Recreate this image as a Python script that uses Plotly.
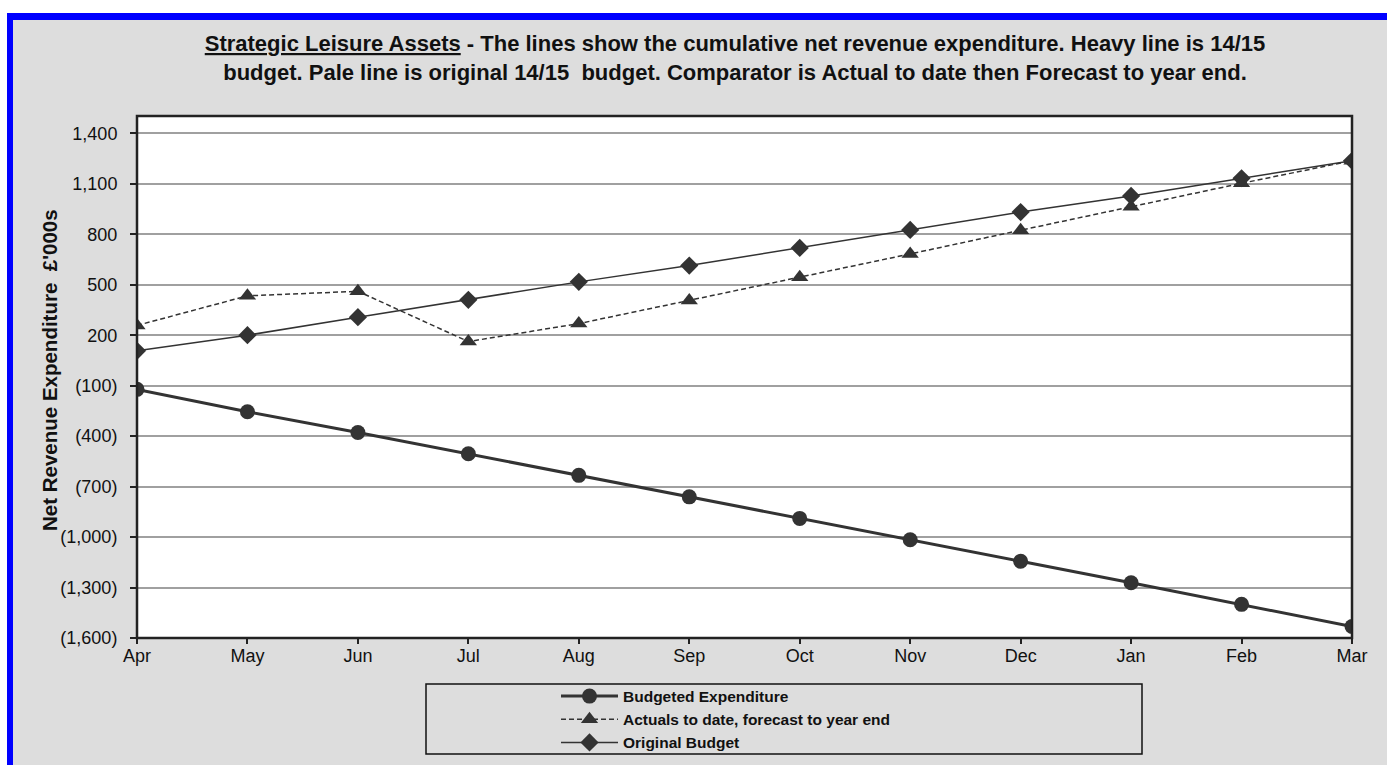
import plotly.graph_objects as go

months = ["Apr", "May", "Jun", "Jul", "Aug", "Sep", "Oct", "Nov", "Dec", "Jan", "Feb", "Mar"]
budgeted = [-122, -255, -378, -505, -633, -761, -889, -1016, -1144, -1272, -1400, -1532]
actuals = [258, 434, 461, 162, 269, 406, 545, 683, 824, 964, 1103, 1237]
original = [107, 200, 307, 410, 517, 614, 719, 826, 932, 1028, 1133, 1237]
ytick_vals = [-1600, -1300, -1000, -700, -400, -100, 200, 500, 800, 1100, 1400]
ytick_text = ["(1,600)", "(1,300)", "(1,000)", "(700)", "(400)", "(100)", "200", "500", "800", "1,100", "1,400"]

W, H = 1387, 765
L, R, T, B = 137, 1352, 116, 638

def px(x):
    return (x - L) / (R - L)

def py(y):
    return (B - y) / (B - T)

dark = "#333333"
fig = go.Figure()
fig.add_trace(go.Scatter(x=months, y=budgeted, name="<b>Budgeted Expenditure</b>", mode="lines+markers",
                         line=dict(color=dark, width=3), marker=dict(symbol="circle", size=15, color=dark)))
fig.add_trace(go.Scatter(x=months, y=actuals, name="<b>Actuals to date, forecast to year end</b>",
                         mode="lines+markers", line=dict(color=dark, width=1.5, dash="5px,3px"),
                         marker=dict(symbol="triangle-up", size=15, color=dark)))
fig.add_trace(go.Scatter(x=months, y=original, name="<b>Original Budget</b>", mode="lines+markers",
                         line=dict(color=dark, width=1.5), marker=dict(symbol="diamond", size=14, color=dark)))

shapes = [
    dict(type="rect", xref="paper", yref="paper", x0=px(0), x1=px(W), y0=py(0), y1=py(13),
         fillcolor="white", line_width=0, layer="below"),
    dict(type="rect", xref="paper", yref="paper", x0=px(0), x1=px(7), y0=py(0), y1=py(H),
         fillcolor="white", line_width=0, layer="below"),
    dict(type="rect", xref="paper", yref="paper", x0=px(7), x1=px(W), y0=py(13), y1=py(20),
         fillcolor="#0000ff", line_width=0, layer="below"),
    dict(type="rect", xref="paper", yref="paper", x0=px(7), x1=px(13), y0=py(13), y1=py(H),
         fillcolor="#0000ff", line_width=0, layer="below"),
    dict(type="rect", xref="paper", yref="paper", x0=px(426), x1=px(1142), y0=py(684), y1=py(754),
         fillcolor="rgba(0,0,0,0)", line=dict(color="#111111", width=1.5), layer="below"),
    dict(type="rect", xref="paper", yref="paper", x0=0, x1=1, y0=0, y1=1,
         fillcolor="rgba(0,0,0,0)", line=dict(color="#222222", width=2.5), layer="above"),
]

title_text = ("<b><u>Strategic Leisure Assets</u> - The lines show the cumulative net revenue expenditure. "
              "Heavy line is 14/15<br>budget. Pale line is original 14/15  budget. "
              "Comparator is Actual to date then Forecast to year end.</b>")

fig.update_layout(
    width=W, height=H, autosize=False,
    margin=dict(l=L, r=W - R, t=T, b=H - B, pad=0, autoexpand=False),
    paper_bgcolor="#dddddd", plot_bgcolor="white",
    font=dict(family="Arial, Liberation Sans, sans-serif", color="#111111", size=18),
    title=dict(text=title_text, xref="container", yref="container", x=735 / W, xanchor="center",
               y=1 - 51 / H, yanchor="middle", font=dict(size=22, color="#111111")),
    showlegend=True,
    legend=dict(x=px(556), y=py(679.5), xanchor="left", yanchor="top", bgcolor="rgba(0,0,0,0)",
                borderwidth=0, font=dict(size=15.5, color="#111111"), tracegroupgap=0,
                itemwidth=57),
    shapes=shapes,
    annotations=[dict(text="<b>Net Revenue Expenditure  £'000s</b>", xref="paper", yref="paper",
                      x=px(49), y=py(370), xanchor="center", yanchor="middle", textangle=-90,
                      showarrow=False, font=dict(size=20.5, color="#111111"))],
    xaxis=dict(type="category", categoryorder="array", categoryarray=months, range=[0, 11],
               showgrid=False, ticks="outside", ticklen=5, tickcolor="#222222", tickwidth=1.5,
               showline=False, zeroline=False, tickfont=dict(size=18), ticklabelstandoff=-4),
    yaxis=dict(range=[-1600, 1503], tickvals=ytick_vals, ticktext=ytick_text, showgrid=True,
               gridcolor="#a0a0a0", gridwidth=1.5, ticks="outside", ticklen=6, tickcolor="#222222",
               tickwidth=1.5, zeroline=False, showline=False, tickfont=dict(size=18),
               ticklabelstandoff=9),
)

fig.write_html("out.html", config={"displayModeBar": False},
               post_script="document.body.style.margin='0';")
